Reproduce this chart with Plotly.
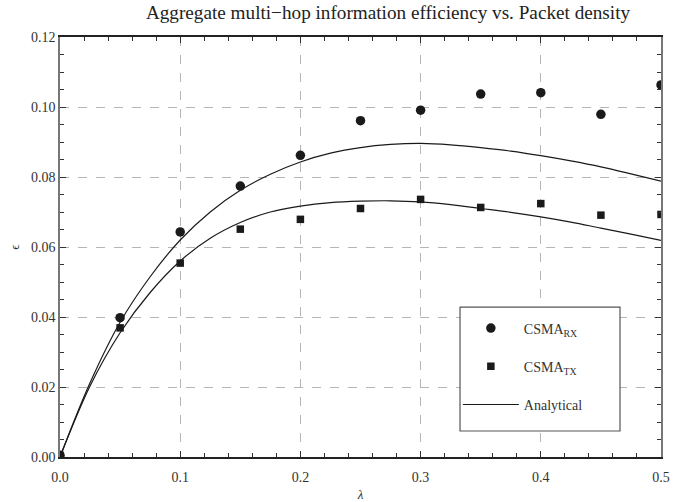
import plotly.graph_objects as go

# Data
lam_pts = [0.0, 0.05, 0.10, 0.15, 0.20, 0.25, 0.30, 0.35, 0.40, 0.45, 0.50]
rx_vals = [0.0005, 0.0398, 0.0643, 0.0774, 0.0862, 0.0961, 0.0991, 0.1037, 0.1041, 0.0979, 0.1063]
tx_vals = [0.0005, 0.0369, 0.0554, 0.0651, 0.0679, 0.0710, 0.0736, 0.0713, 0.0724, 0.0691, 0.0693]

lam_curve = [0.0, 0.025, 0.05, 0.075, 0.1, 0.125, 0.15, 0.175, 0.2, 0.225, 0.25,
             0.275, 0.3, 0.325, 0.35, 0.375, 0.4, 0.425, 0.45, 0.475, 0.5]
an_rx = [0.0, 0.0212, 0.0385, 0.0515, 0.0620, 0.0700, 0.0762, 0.0808, 0.0843, 0.0868, 0.0884,
         0.0893, 0.0896, 0.0892, 0.0884, 0.0874, 0.0861, 0.0846, 0.0829, 0.0809, 0.0788]
an_tx = [0.0, 0.0203, 0.0355, 0.0470, 0.0560, 0.0625, 0.0670, 0.0700, 0.0717, 0.0727, 0.0731,
         0.0732, 0.0729, 0.0721, 0.0710, 0.0699, 0.0686, 0.0671, 0.0654, 0.0637, 0.0619]

x_ticks = [0.0, 0.1, 0.2, 0.3, 0.4, 0.5]
x_labels = ["0.0", "0.1", "0.2", "0.3", "0.4", "0.5"]
y_ticks = [0.0, 0.02, 0.04, 0.06, 0.08, 0.10, 0.12]
y_labels = ["0.00", "0.02", "0.04", "0.06", "0.08", "0.10", "0.12"]

SERIF = "Liberation Serif, Times New Roman, serif"
INK = "#1a1a1a"

fig = go.Figure()
fig.add_trace(go.Scatter(x=lam_pts, y=rx_vals, mode="markers", name="CSMA<sub>RX</sub>",
                         legendgroup="a",
                         marker=dict(symbol="circle", size=9.5, color=INK)))
fig.add_trace(go.Scatter(x=lam_pts, y=tx_vals, mode="markers", name="CSMA<sub>TX</sub>",
                         legendgroup="b",
                         marker=dict(symbol="square", size=7.5, color=INK)))
fig.add_trace(go.Scatter(x=lam_curve, y=an_rx, mode="lines", name="Analytical<sub>\u00a0</sub>",
                         legendgroup="c",
                         line=dict(color=INK, width=1.2, shape="spline")))
fig.add_trace(go.Scatter(x=lam_curve, y=an_tx, mode="lines", name="Analytical",
                         legendgroup="c", showlegend=False,
                         line=dict(color=INK, width=1.2, shape="spline")))

def axis_common(linecolor):
    return dict(
        showline=True, linecolor=linecolor, linewidth=1.5, mirror="ticks",
        ticks="inside", ticklen=6, tickcolor="#333", tickwidth=1,
        showgrid=True, gridcolor="#b5b5b5", griddash="dash", gridwidth=1,
        zeroline=False, automargin=False,
        tickfont=dict(family=SERIF, size=14, color="#333"),
    )

fig.update_xaxes(range=[0, 0.5], tickvals=x_ticks, ticktext=x_labels,
                 ticklabelstandoff=6,
                 minor=dict(dtick=0.02, ticks="inside", ticklen=4, tickcolor="#333", showgrid=False),
                 title=dict(text="<i>λ</i>", font=dict(family=SERIF, size=13, color="#333"), standoff=14),
                 **axis_common("#222"))
fig.update_yaxes(range=[0, 0.12], tickvals=y_ticks, ticktext=y_labels,
                 minor=dict(dtick=0.005, ticks="inside", ticklen=4, tickcolor="#333", showgrid=False),
                 title=dict(text="ϵ", font=dict(family=SERIF, size=13, color="#333"), standoff=8),
                 **axis_common("#777"))

# legend frame
fig.add_shape(type="rect", xref="paper", yref="paper",
              x0=0.6656, x1=0.9318, y0=0.0619, y1=0.357,
              line=dict(color="#555", width=1.2), fillcolor="white", layer="above")

fig.update_layout(
    width=686, height=502,
    margin=dict(l=60, r=25, t=37, b=45),
    paper_bgcolor="white", plot_bgcolor="white",
    title=dict(text="Aggregate multi−hop information efficiency vs. Packet density",
               x=0.5656, xanchor="center", y=0.975, yanchor="middle",
               font=dict(family=SERIF, size=19.2, color="#222")),
    legend=dict(x=0.662, y=0.344, xanchor="left", yanchor="top",
                bgcolor="rgba(0,0,0,0)", borderwidth=0,
                tracegroupgap=17, itemwidth=56,
                font=dict(family=SERIF, size=14, color="#333")),
    showlegend=True,
)

fig.write_html("out.html", post_script="document.body.style.margin='0';",
               config={"displayModeBar": False})
